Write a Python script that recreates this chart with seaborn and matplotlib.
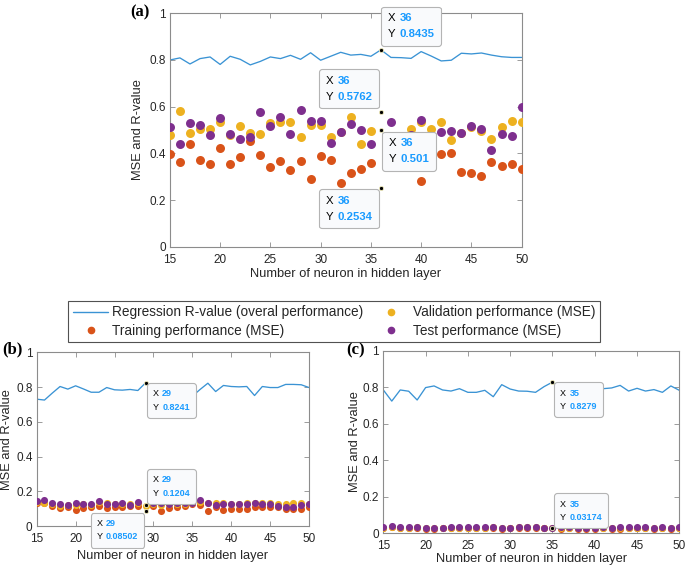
import matplotlib
matplotlib.use("Agg")
import matplotlib.pyplot as plt
import numpy as np
import seaborn as sns
from matplotlib.lines import Line2D
from matplotlib.offsetbox import AnnotationBbox, HPacker, TextArea, VPacker

# nombre de neurones (axe x commun aux trois panneaux)
neurons = list(range(15, 51))

# panneau (a)
a_r = [0.800, 0.809, 0.783, 0.806, 0.813, 0.781, 0.816, 0.803, 0.779, 0.794, 0.813, 0.806,
       0.820, 0.803, 0.831, 0.799, 0.816, 0.833, 0.821, 0.824, 0.816, 0.8435, 0.811, 0.810,
       0.807, 0.836, 0.817, 0.796, 0.799, 0.829, 0.826, 0.830, 0.821, 0.814, 0.811, 0.811]
a_train = [0.396, 0.365, 0.440, 0.370, 0.354, 0.423, 0.354, 0.384, 0.454, 0.393, 0.341, 0.367,
           0.329, 0.367, 0.289, 0.389, 0.370, 0.273, 0.316, 0.333, 0.357, 0.2534, 0.360, 0.400,
           0.370, 0.281, 0.350, 0.397, 0.403, 0.319, 0.314, 0.303, 0.363, 0.344, 0.354, 0.331]
a_val = [0.479, 0.581, 0.489, 0.503, 0.503, 0.533, 0.477, 0.519, 0.486, 0.481, 0.529, 0.533,
         0.534, 0.470, 0.521, 0.521, 0.471, 0.490, 0.556, 0.441, 0.496, 0.5762, 0.470, 0.450,
         0.503, 0.535, 0.503, 0.534, 0.459, 0.486, 0.511, 0.494, 0.460, 0.514, 0.539, 0.533]
a_test = [0.513, 0.440, 0.531, 0.521, 0.480, 0.553, 0.484, 0.463, 0.471, 0.576, 0.517, 0.554,
          0.484, 0.586, 0.539, 0.539, 0.444, 0.490, 0.527, 0.499, 0.440, 0.501, 0.534, 0.450,
          0.480, 0.544, 0.470, 0.490, 0.497, 0.486, 0.517, 0.506, 0.414, 0.483, 0.476, 0.600]

# panneau (b)
b_r = [0.730, 0.725, 0.765, 0.803, 0.788, 0.807, 0.789, 0.770, 0.770, 0.797, 0.784, 0.782,
       0.786, 0.780, 0.8241, 0.790, 0.780, 0.800, 0.790, 0.780, 0.747, 0.786, 0.822, 0.774,
       0.809, 0.803, 0.801, 0.803, 0.751, 0.803, 0.797, 0.797, 0.815, 0.815, 0.813, 0.797]
b_train = [0.134, 0.130, 0.117, 0.102, 0.110, 0.092, 0.102, 0.110, 0.115, 0.102, 0.109, 0.109,
           0.113, 0.117, 0.08502, 0.115, 0.088, 0.106, 0.109, 0.115, 0.127, 0.123, 0.088, 0.111,
           0.092, 0.100, 0.100, 0.100, 0.110, 0.109, 0.109, 0.109, 0.100, 0.100, 0.100, 0.111]
b_val = [0.140, 0.130, 0.125, 0.115, 0.120, 0.120, 0.125, 0.120, 0.140, 0.130, 0.125, 0.125,
         0.125, 0.130, 0.118, 0.125, 0.120, 0.125, 0.125, 0.125, 0.130, 0.140, 0.130, 0.135,
         0.130, 0.125, 0.125, 0.135, 0.130, 0.130, 0.135, 0.125, 0.125, 0.130, 0.135, 0.125]
b_test = [0.142, 0.148, 0.134, 0.127, 0.119, 0.131, 0.127, 0.127, 0.146, 0.127, 0.127, 0.134,
          0.119, 0.140, 0.1204, 0.131, 0.134, 0.128, 0.130, 0.132, 0.135, 0.152, 0.134, 0.119,
          0.125, 0.125, 0.125, 0.125, 0.134, 0.125, 0.127, 0.115, 0.111, 0.111, 0.121, 0.125]

# panneau (c)
c_r = [0.785, 0.724, 0.785, 0.778, 0.730, 0.798, 0.807, 0.785, 0.779, 0.792, 0.772, 0.772,
       0.783, 0.748, 0.814, 0.790, 0.779, 0.778, 0.772, 0.803, 0.8279, 0.800, 0.790, 0.800,
       0.790, 0.790, 0.792, 0.796, 0.810, 0.779, 0.794, 0.779, 0.787, 0.772, 0.807, 0.783]
c_train = [0.028, 0.034, 0.027, 0.028, 0.031, 0.026, 0.026, 0.027, 0.028, 0.027, 0.028, 0.027,
           0.028, 0.031, 0.025, 0.027, 0.029, 0.030, 0.029, 0.027, 0.03174, 0.026, 0.027, 0.024,
           0.025, 0.026, 0.027, 0.026, 0.024, 0.027, 0.027, 0.028, 0.026, 0.027, 0.026, 0.027]
c_val = [0.031, 0.037, 0.030, 0.031, 0.034, 0.029, 0.029, 0.030, 0.031, 0.030, 0.031, 0.030,
         0.031, 0.034, 0.028, 0.030, 0.032, 0.033, 0.032, 0.030, 0.029, 0.029, 0.030, 0.027,
         0.028, 0.029, 0.030, 0.029, 0.027, 0.030, 0.030, 0.031, 0.029, 0.030, 0.029, 0.030]
c_test = [0.032, 0.040, 0.032, 0.032, 0.037, 0.031, 0.030, 0.031, 0.032, 0.032, 0.033, 0.032,
          0.033, 0.037, 0.030, 0.031, 0.035, 0.035, 0.034, 0.031, 0.030, 0.032, 0.032, 0.030,
          0.030, 0.031, 0.032, 0.031, 0.033, 0.032, 0.032, 0.033, 0.031, 0.032, 0.031, 0.032]

legend_labels = ["Regression R-value (overal performance)", "Training performance (MSE)",
                 "Validation performance (MSE)", "Test performance (MSE)"]

BLUE = "#3a93d4"
ORANGE = "#D95319"
YELLOW = "#EDB120"
PURPLE = "#7E2F8E"
TIPBLUE = "#1a9bff"
AXCOL = "#8c8c8c"
TXTCOL = "#262626"

sns.set_style("ticks")
plt.rcParams["font.family"] = ["Liberation Sans", "DejaVu Sans"]
plt.rcParams["font.size"] = 10

fig = plt.figure(figsize=(6.85, 5.67), dpi=100)
ax_a = fig.add_axes([0.248, 0.5649, 0.5135, 0.4116])
ax_b = fig.add_axes([0.0536, 0.0723, 0.3975, 0.3064])
ax_c = fig.add_axes([0.5596, 0.0594, 0.4321, 0.3221])


def draw_panel(ax, r, train, val, test, tips, dot_size, ylab_x, xlab_y):
    # tips : (serie, x, dx, dy, alignement, taille) -> data tip façon MATLAB
    series = {"r": r, "train": train, "val": val, "test": test}
    sns.lineplot(x=neurons, y=r, color=BLUE, linewidth=0.95, ax=ax, zorder=2)
    for key, col in [("train", ORANGE), ("val", YELLOW), ("test", PURPLE)]:
        vals = np.array(series[key], dtype=float)
        for s, xv, *_ in tips:
            if s == key:
                vals[neurons.index(xv)] = np.nan
        sns.scatterplot(x=neurons, y=vals, color=col, s=dot_size, linewidth=0, ax=ax, zorder=3)

    ax.set_xlim(15, 50)
    ax.set_ylim(0, 1)
    ax.set_xticks(range(15, 51, 5))
    ax.set_yticks([0, 0.2, 0.4, 0.6, 0.8, 1])
    ax.set_yticklabels(["0", "0.2", "0.4", "0.6", "0.8", "1"])
    ax.tick_params(direction="in", top=True, right=True, length=3.5, width=0.6,
                   color=AXCOL, labelcolor=TXTCOL, labelsize=8.5)
    ax.tick_params(axis="x", pad=5)
    ax.tick_params(axis="y", pad=3)
    for sp in ax.spines.values():
        sp.set_color(AXCOL)
        sp.set_linewidth(0.8)
    ax.set_xlabel("Number of neuron in hidden layer", fontsize=9.3, color=TXTCOL)
    ax.set_ylabel("MSE and R-value", fontsize=9.3, color=TXTCOL)
    ax.yaxis.set_label_coords(ylab_x, 0.5)
    ax.xaxis.set_label_coords(0.5, xlab_y)

    for s, xv, dx, dy, align, fs in tips:
        yv = series[s][neurons.index(xv)]
        ax.scatter([xv], [yv], s=9, color="k", edgecolors="#f3eec0", linewidths=0.6, zorder=6)
        rows = []
        for lab, txt in [("X", str(xv)), ("Y", f"{yv:.5g}")]:
            rows.append(HPacker(children=[
                TextArea(lab, textprops=dict(color="k", fontsize=fs)),
                TextArea(txt, textprops=dict(color=TIPBLUE, fontsize=fs, fontweight="bold"))],
                align="baseline", pad=0, sep=fs * 0.35))
        box = VPacker(children=rows, align="left", pad=fs * 0.22, sep=fs * 0.5)
        ab = AnnotationBbox(box, (xv, yv), xybox=(dx, dy), xycoords="data",
                            boxcoords="offset pixels", box_alignment=align,
                            frameon=True, zorder=7,
                            bboxprops=dict(boxstyle="round,pad=0.3,rounding_size=0.2",
                                           fc="#f9fafc", ec="#b4b4b4", lw=0.8))
        ax.add_artist(ab)


draw_panel(ax_a, a_r, a_train, a_val, a_test,
           [("r", 36, 4.5, 39, (0, 1), 8.2), ("val", 36, -6, 38.7, (1, 1), 8.2),
            ("test", 36, 5.5, -6, (0, 1), 8.2), ("train", 36, -6, -6, (1, 1), 8.2)],
           42, -0.0725, -0.093)
draw_panel(ax_b, b_r, b_train, b_val, b_test,
           [("r", 29, 5.4, -4.5, (0, 1), 6.5), ("test", 29, 5.4, 31.6, (0, 1), 6.5),
            ("train", 29, -5.4, -5.7, (1, 1), 6.5)],
           26, -0.087, -0.138)
draw_panel(ax_c, c_r, c_train, c_val, c_test,
           [("r", 35, 5.8, -4.4, (0, 1), 6.5), ("train", 35, 5.8, 30, (0, 1), 6.5)],
           26, -0.074, -0.11)

handles = [Line2D([], [], color=BLUE, lw=1.0),
           Line2D([], [], marker="o", ls="", color=ORANGE, markersize=4.5),
           Line2D([], [], marker="o", ls="", color=YELLOW, markersize=4.5),
           Line2D([], [], marker="o", ls="", color=PURPLE, markersize=4.5)]
leg = fig.legend(handles, legend_labels, ncol=2, loc="center", bbox_to_anchor=(0.4875, 0.433),
                 fontsize=9.8, frameon=True, fancybox=False, edgecolor=TXTCOL,
                 handlelength=2.6, handletextpad=0.3, columnspacing=0.7,
                 labelspacing=0.3, borderpad=0.35)
leg.get_frame().set_linewidth(0.8)

for lab, xp, yp in [("(a)", 0.19, 0.979), ("(b)", 0.003, 0.383), ("(c)", 0.505, 0.3815)]:
    fig.text(xp, yp, lab, family="Liberation Serif", fontweight="bold", fontsize=12,
             ha="left", va="center", color="k")

fig.savefig("out.png", dpi=100)
